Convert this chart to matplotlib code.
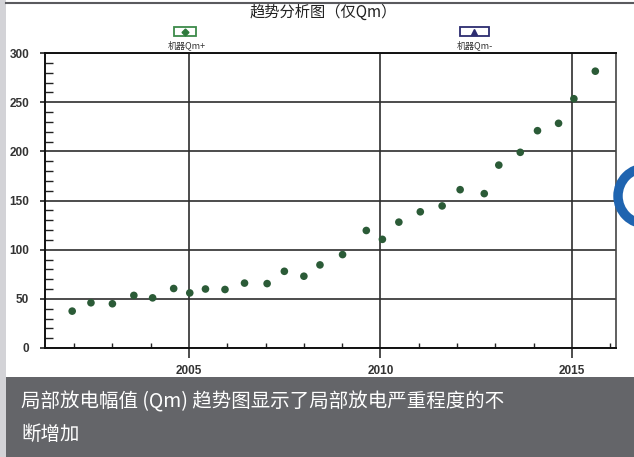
import matplotlib
matplotlib.use("Agg")
import matplotlib.pyplot as plt
from matplotlib.patches import Rectangle, Circle
from matplotlib.lines import Line2D
from matplotlib.transforms import IdentityTransform
from matplotlib.ticker import MultipleLocator

plt.rcParams['font.family'] = ['Noto Sans CJK SC', 'DejaVu Sans']

# ---- data ----
years = [2001.95, 2002.44, 2003.00, 2003.56, 2004.05, 2004.60, 2005.02, 2005.43,
         2005.94, 2006.45, 2007.04, 2007.49, 2008.00, 2008.42, 2009.01, 2009.63,
         2010.05, 2010.48, 2011.04, 2011.61, 2012.08, 2012.71, 2013.09, 2013.65,
         2014.10, 2014.65, 2015.05, 2015.61]
qm_values = [37.5, 46, 45, 53.5, 51, 60.5, 56, 60, 59.5, 66, 65.5, 78, 73, 84.5,
             95, 119.5, 110.5, 128, 138.5, 144.5, 161, 157, 186, 199, 221, 228.5,
             253.5, 281.5]
x_ticks = [2005, 2010, 2015]
y_ticks = [0, 50, 100, 150, 200, 250, 300]
title = "趋势分析图（仅Qm）"
legend_labels = ["机器Qm+", "机器Qm-"]
caption_lines = ["局部放电幅值 (Qm) 趋势图显示了局部放电严重程度的不", "断增加"]

W, H = 634, 457
fig = plt.figure(figsize=(W / 100, H / 100), dpi=100)
fig.patch.set_facecolor('white')

def fx(px):
    return px / W

def fy(py):
    return 1 - py / H

# left gray strip and top line
fig.add_artist(Rectangle((0, 0), fx(6), 1, transform=fig.transFigure,
                         facecolor='#d3d3d7', edgecolor='none', zorder=0))
fig.add_artist(Line2D([fx(6), 1], [fy(2.5), fy(2.5)], transform=fig.transFigure,
                      color='#5a5a5e', lw=1.5))

ax = fig.add_axes([fx(45), fy(348), fx(616) - fx(45), fy(53) - fy(348)])
ax.set_xlim(2001.24, 2016.15)
ax.set_ylim(0, 300)

ax.scatter(years, qm_values, s=30, marker='o', color='#2b5b37',
           edgecolors='none', zorder=3)

ax.set_xticks(x_ticks)
ax.set_xticklabels([str(t) for t in x_ticks])
ax.set_yticks(y_ticks)
ax.set_yticklabels([str(t) for t in y_ticks])
ax.xaxis.set_minor_locator(MultipleLocator(1))
ax.yaxis.set_minor_locator(MultipleLocator(10))

ax.grid(True, which='major', color='#2e2e2e', lw=1.2, zorder=1)
ax.tick_params(axis='x', which='major', direction='out', length=7, width=1.2,
               color='#2e2e2e', pad=5, labelsize=8.5, labelcolor='#333333')
ax.tick_params(axis='x', which='minor', direction='in', length=3.6, width=1,
               color='#222222')
ax.tick_params(axis='y', which='major', direction='out', length=3.5, width=1.2,
               color='#222222', pad=8, labelsize=8.5, labelcolor='#333333')
ax.tick_params(axis='y', which='minor', direction='in', length=5.5, width=1,
               color='#222222')
for lab in ax.get_xticklabels() + ax.get_yticklabels():
    lab.set_fontweight('bold')
    lab.set_family(['Liberation Sans', 'DejaVu Sans'])

for side in ['left', 'bottom', 'top']:
    ax.spines[side].set_color('#111111')
    ax.spines[side].set_linewidth(1.4)
ax.spines['right'].set_color('#444444')
ax.spines['right'].set_linewidth(1.2)

# title
fig.text(fx(323), fy(12), title, ha='center', va='center', fontsize=11,
         color='#222222')

# legend boxes
fig.add_artist(Rectangle((fx(173.5), fy(35.7)), fx(195.5) - fx(173.5),
                         fy(27.3) - fy(35.7), transform=fig.transFigure,
                         facecolor='white', edgecolor='#3d8a4a', lw=1.3))
fig.add_artist(Line2D([fx(184.5)], [fy(31.5)], transform=fig.transFigure,
                      marker='D', markersize=3.5, color='#2e7a3c', lw=0))
fig.text(fx(186.5), fy(45), legend_labels[0], ha='center', va='center',
         fontsize=6.5, color='#333333')
fig.add_artist(Rectangle((fx(459.5), fy(35.7)), fx(489) - fx(459.5),
                         fy(27.3) - fy(35.7), transform=fig.transFigure,
                         facecolor='white', edgecolor='#2c2c70', lw=1.3))
fig.add_artist(Line2D([fx(474)], [fy(31.8)], transform=fig.transFigure,
                      marker='^', markersize=5, color='#2c2c70', lw=0))
fig.text(fx(475), fy(45), legend_labels[1], ha='center', va='center',
         fontsize=6.5, color='#333333')

# blue ring at right edge
fig.add_artist(Circle((646, H - 196), 28, transform=IdentityTransform(),
                      facecolor='none', edgecolor='#1f64b0', lw=6.8))

# bottom caption band
fig.add_artist(Rectangle((fx(6), 0), 1 - fx(6), fy(376.5), transform=fig.transFigure,
                         facecolor='#646569', edgecolor='none'))
fig.text(fx(21), fy(402), caption_lines[0], ha='left', va='center',
         fontsize=14, color='white')
fig.text(fx(21), fy(434), caption_lines[1], ha='left', va='center',
         fontsize=14, color='white')

fig.savefig('out.png', dpi=100)
